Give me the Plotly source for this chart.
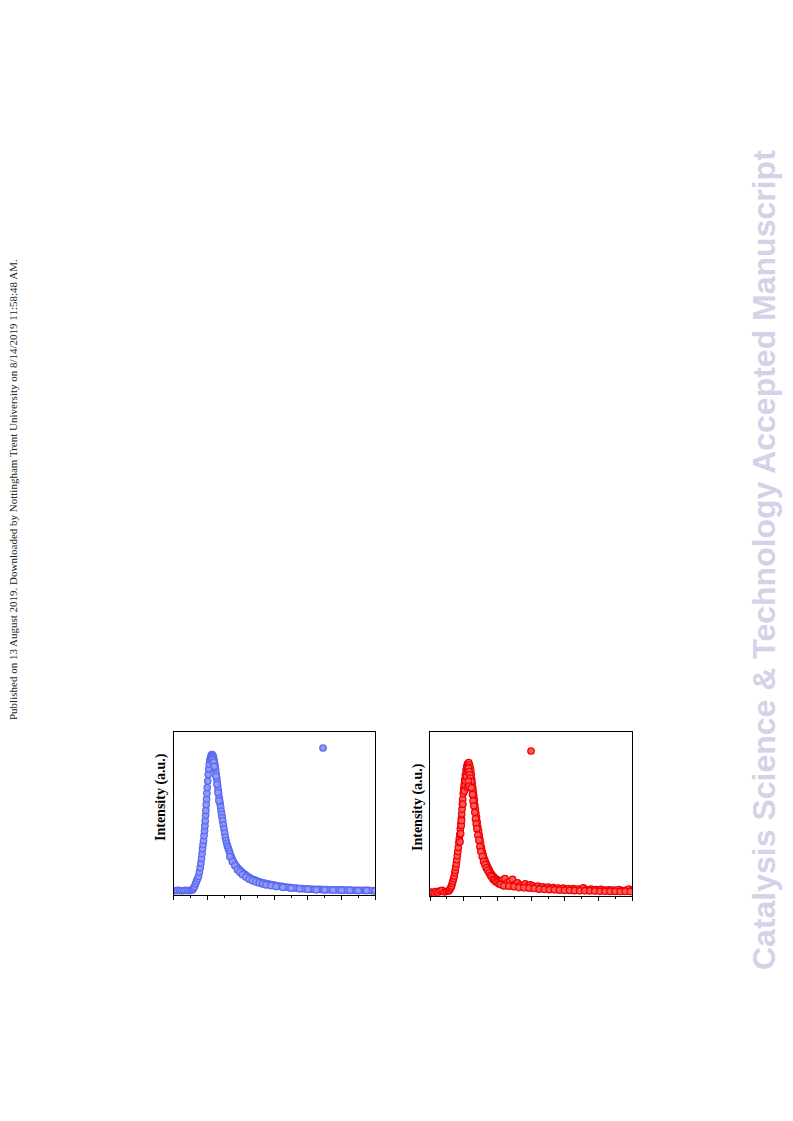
import plotly.graph_objects as go

# ---------------- data (x in tick units 0..12, y as normalised intensity 0..1) ----------------
blue_x = [0.0, 0.12, 0.24, 0.36, 0.48, 0.60, 0.72, 0.84, 0.96, 1.08,
          1.12, 1.18, 1.24, 1.30, 1.36, 1.42, 1.48, 1.53, 1.58, 1.62, 1.66, 1.69, 1.72, 1.75, 1.78, 1.81,
          1.84, 1.86, 1.88, 1.90, 1.92, 1.94, 1.96, 1.98, 2.00, 2.03, 2.06, 2.09, 2.12, 2.16, 2.20, 2.24,
          2.28, 2.32, 2.36, 2.40, 2.44,
          2.47, 2.50, 2.53, 2.56, 2.59, 2.62, 2.65, 2.68, 2.71, 2.74, 2.77, 2.80, 2.83, 2.86, 2.89, 2.92,
          2.96, 3.00, 3.04, 3.08, 3.12, 3.16, 3.21, 3.26, 3.31, 3.36, 3.42, 3.48, 3.54, 3.60, 3.67, 3.74,
          3.82, 3.90, 3.98, 4.07, 4.16, 4.26, 4.36, 4.46, 4.57, 4.68, 4.80, 4.92, 5.05, 5.18, 5.32, 5.46,
          5.60, 5.75, 5.90, 6.05, 6.20, 6.36, 6.52, 6.68, 6.84, 7.00, 7.17, 7.34, 7.51, 7.68, 7.85, 8.02,
          8.20, 8.38, 8.56, 8.74, 8.92, 9.10, 9.28, 9.46, 9.64, 9.82, 10.00, 10.18, 10.36, 10.54, 10.72,
          10.90, 11.08, 11.26, 11.44, 11.62, 11.80, 11.98,
          3.35, 3.50, 3.65, 3.80, 3.95, 4.10, 4.30, 4.50, 4.70, 4.90, 5.10, 5.30, 5.50, 5.80, 6.10, 6.50,
          7.00, 7.50, 8.00, 8.50, 9.00, 9.50, 10.00, 10.50, 11.00, 11.50, 12.00,
          2.22, 2.26, 2.30, 2.34, 2.38, 2.42, 2.52, 2.58, 2.64, 2.70]
blue_y = [0.027, 0.026, 0.028, 0.027, 0.026, 0.027, 0.028, 0.027, 0.027, 0.030,
          0.033, 0.042, 0.052, 0.068, 0.085, 0.100, 0.115, 0.140, 0.168, 0.195, 0.225, 0.255, 0.285, 0.310,
          0.335, 0.365, 0.395, 0.425, 0.455, 0.490, 0.520, 0.555, 0.590, 0.625, 0.660, 0.700, 0.740, 0.775,
          0.805, 0.830, 0.848, 0.858,
          0.863, 0.860, 0.850, 0.835, 0.810,
          0.790, 0.770, 0.745, 0.720, 0.700, 0.675, 0.650, 0.625, 0.600, 0.580, 0.560, 0.540, 0.515, 0.495,
          0.475, 0.455, 0.430, 0.405, 0.380, 0.355, 0.335, 0.318, 0.300, 0.285, 0.270, 0.255, 0.238, 0.222,
          0.208, 0.197, 0.186, 0.176, 0.166, 0.157, 0.149, 0.141, 0.133, 0.125, 0.117, 0.110, 0.104, 0.098,
          0.093, 0.088, 0.083, 0.079, 0.075, 0.071, 0.068, 0.065, 0.062, 0.059, 0.056, 0.054, 0.051, 0.049,
          0.047, 0.045, 0.043, 0.042, 0.040, 0.039, 0.038, 0.037, 0.036, 0.035, 0.034, 0.034, 0.033, 0.033,
          0.032, 0.032, 0.031, 0.031, 0.031, 0.030, 0.030, 0.030, 0.029, 0.029, 0.029, 0.028, 0.028, 0.028,
          0.027, 0.027,
          0.235, 0.205, 0.180, 0.155, 0.140, 0.125, 0.110, 0.097, 0.088, 0.080, 0.074, 0.068, 0.062, 0.057,
          0.052, 0.047, 0.042, 0.038, 0.035, 0.032, 0.031, 0.030, 0.029, 0.028, 0.027, 0.027, 0.026,
          0.835, 0.845, 0.840, 0.830, 0.815, 0.790, 0.730, 0.680, 0.630, 0.580]

red_x = [0.0, 0.12, 0.24, 0.36, 0.48, 0.60, 0.72, 0.84, 0.96, 1.08,
         1.12, 1.18, 1.24, 1.28, 1.32, 1.36, 1.40, 1.44, 1.47, 1.50, 1.53, 1.56, 1.59, 1.62, 1.65, 1.68,
         1.71, 1.74, 1.77, 1.80, 1.83, 1.86, 1.88, 1.90, 1.92, 1.94, 1.97, 2.00, 2.03, 2.06, 2.10, 2.14,
         2.18, 2.22, 2.26,
         2.30, 2.34, 2.38, 2.42, 2.45, 2.48, 2.51, 2.54, 2.57, 2.60, 2.63, 2.66, 2.69, 2.72, 2.76, 2.80,
         2.84, 2.88, 2.92, 2.96, 3.00, 3.05, 3.10, 3.15, 3.20, 3.26, 3.32, 3.38, 3.45, 3.52, 3.60, 3.68,
         3.76, 3.85, 3.94, 4.03, 4.13, 4.23,
         4.30, 4.45, 4.60, 4.75, 4.90, 5.05, 5.20, 5.35, 5.50, 5.65, 5.80, 5.95, 6.10, 6.25, 6.40, 6.55,
         6.70, 6.85, 7.00, 7.15, 7.30, 7.45, 7.60, 7.75, 7.90, 8.05, 8.20, 8.35, 8.50, 8.65, 8.80, 8.95,
         9.10, 9.25, 9.40, 9.55, 9.70, 9.85, 10.00, 10.15, 10.30, 10.45, 10.60, 10.75, 10.90, 11.05,
         11.20, 11.35, 11.50, 11.65, 11.80, 11.95,
         1.78, 1.82, 1.85, 1.87, 1.95, 2.04, 2.08, 2.12, 2.16, 2.20, 2.24, 2.28, 2.32, 2.36, 2.40, 2.44,
         2.28, 2.24, 2.32, 2.46, 2.52, 2.56, 2.60, 2.66, 2.70, 2.74, 2.78, 2.84, 2.90, 2.96, 3.02, 3.10,
         3.18, 3.26, 3.34, 3.42, 3.50, 3.58, 3.66, 3.74, 3.82, 3.90, 4.00, 4.10, 4.20,
         4.38, 4.68, 4.98, 5.28, 5.58, 5.88, 6.18, 6.48, 6.78, 7.08, 7.38, 7.68, 7.98, 8.28, 8.58, 8.88,
         9.18, 9.48, 9.78, 10.08, 10.38, 10.68, 10.98, 11.28, 11.58, 11.88]
red_y = [0.020, 0.022, 0.018, 0.025, 0.020, 0.030, 0.032, 0.022, 0.025, 0.028,
         0.030, 0.040, 0.050, 0.060, 0.075, 0.090, 0.105, 0.120, 0.140, 0.155, 0.175, 0.195, 0.220, 0.245,
         0.270, 0.295, 0.325, 0.350, 0.375, 0.410, 0.440, 0.470, 0.500, 0.530, 0.560, 0.590, 0.625, 0.655,
         0.680, 0.710, 0.740, 0.770, 0.790, 0.805, 0.810,
         0.815, 0.800, 0.785, 0.765, 0.740, 0.710, 0.685, 0.660, 0.635, 0.610, 0.585, 0.555, 0.530, 0.505,
         0.480, 0.450, 0.420, 0.395, 0.370, 0.345, 0.320, 0.295, 0.270, 0.250, 0.230, 0.215, 0.200, 0.185,
         0.170, 0.155, 0.140, 0.128, 0.117, 0.108, 0.100, 0.094, 0.088, 0.085,
         0.095, 0.105, 0.080, 0.090, 0.100, 0.070, 0.078, 0.065, 0.062, 0.072, 0.058, 0.066, 0.060, 0.052,
         0.058, 0.050, 0.054, 0.047, 0.052, 0.045, 0.049, 0.043, 0.047, 0.042, 0.046, 0.040, 0.044, 0.039,
         0.043, 0.038, 0.041, 0.037, 0.048, 0.038, 0.036, 0.040, 0.035, 0.037, 0.034, 0.039, 0.035, 0.033,
         0.036, 0.032, 0.035, 0.031, 0.038, 0.033, 0.030, 0.034, 0.040, 0.031,
         0.330, 0.380, 0.430, 0.460, 0.560, 0.640, 0.680, 0.700, 0.730, 0.760, 0.770, 0.780, 0.760, 0.740,
         0.720, 0.700, 0.700, 0.660, 0.670, 0.660, 0.620, 0.580, 0.550, 0.510, 0.470, 0.440, 0.410, 0.370,
         0.340, 0.300, 0.270, 0.240, 0.210, 0.190, 0.170, 0.155, 0.140, 0.125, 0.115, 0.100, 0.095, 0.085,
         0.080, 0.072, 0.068,
         0.060, 0.058, 0.055, 0.050, 0.048, 0.046, 0.044, 0.040, 0.039, 0.037, 0.036, 0.034, 0.033, 0.032,
         0.031, 0.030, 0.030, 0.029, 0.028, 0.027, 0.027, 0.026, 0.026, 0.025, 0.026, 0.025]

y_title = "Intensity (a.u.)"
watermark = "Catalysis Science &amp; Technology Accepted Manuscript"
side_note = ("Published on 13 August 2019. Downloaded by Nottingham Trent University on "
             "8/14/2019 11:58:48 AM.")

W, H = 793, 1121
OFF = 8  # default body margin of the page


def px_x(p):
    return (p - OFF) / W


def px_y(p):
    return 1 - (p - OFF) / H


fig = go.Figure()
fig.add_trace(go.Scatter(
    x=blue_x, y=blue_y, mode="markers", name=" ", xaxis="x", yaxis="y", legend="legend",
    marker=dict(size=6.5, color="#8e9af7", line=dict(color="#5a69ef", width=1.2))))
fig.add_trace(go.Scatter(
    x=red_x, y=red_y, mode="markers", name=" ", xaxis="x2", yaxis="y2", legend="legend2",
    marker=dict(size=6.5, color="#ff5a5a", line=dict(color="#f00000", width=1.2))))

axis_common = dict(showline=True, linecolor="black", linewidth=1, mirror=True,
                   showgrid=False, zeroline=False)
fig.update_layout(
    width=W, height=H, margin=dict(l=0, r=0, t=0, b=0),
    paper_bgcolor="white", plot_bgcolor="white",
    xaxis=dict(domain=[px_x(173.7), px_x(375)], range=[0, 12], dtick=2, ticks="outside",
               ticklen=4, tickcolor="black", showticklabels=False,
               minor=dict(dtick=1, ticks="outside", ticklen=2, tickcolor="black"), **axis_common),
    yaxis=dict(domain=[px_y(895), px_y(732.3)], range=[0, 1], showticklabels=False,
               ticks="", **axis_common),
    xaxis2=dict(domain=[px_x(430), px_x(632.3)], range=[0, 12], dtick=2, ticks="outside",
                ticklen=4, tickcolor="black", showticklabels=False, anchor="y2",
                minor=dict(dtick=1, ticks="outside", ticklen=2, tickcolor="black"), **axis_common),
    yaxis2=dict(domain=[px_y(895.7), px_y(732.3)], range=[0, 1], showticklabels=False,
                ticks="", anchor="x2", **axis_common),
    legend=dict(x=px_x(323 - 20), y=px_y(748), xanchor="left", yanchor="middle",
                bgcolor="rgba(0,0,0,0)", font=dict(size=10), itemwidth=30),
    legend2=dict(x=px_x(531 - 20), y=px_y(751), xanchor="left", yanchor="middle",
                 bgcolor="rgba(0,0,0,0)", font=dict(size=10), itemwidth=30),
    showlegend=True,
)

fig.add_annotation(text="<b>" + y_title + "</b>", xref="paper", yref="paper",
                   x=px_x(161), y=px_y(797), xanchor="center", yanchor="middle",
                   textangle=-90, showarrow=False,
                   font=dict(family="Liberation Serif", size=14, color="black"))
fig.add_annotation(text="<b>" + y_title + "</b>", xref="paper", yref="paper",
                   x=px_x(418), y=px_y(807), xanchor="center", yanchor="middle",
                   textangle=-90, showarrow=False,
                   font=dict(family="Liberation Serif", size=14, color="black"))
fig.add_annotation(text="<b>" + watermark + "</b>", xref="paper", yref="paper",
                   x=px_x(764), y=px_y(560), xanchor="center", yanchor="middle",
                   textangle=-90, showarrow=False,
                   font=dict(family="Liberation Sans", size=32, color="#d2d2e8"))
fig.add_annotation(text=side_note, xref="paper", yref="paper",
                   x=px_x(13), y=px_y(490), xanchor="center", yanchor="middle",
                   textangle=-90, showarrow=False,
                   font=dict(family="Liberation Serif", size=11, color="#222222"))

fig.write_html("out.html")
